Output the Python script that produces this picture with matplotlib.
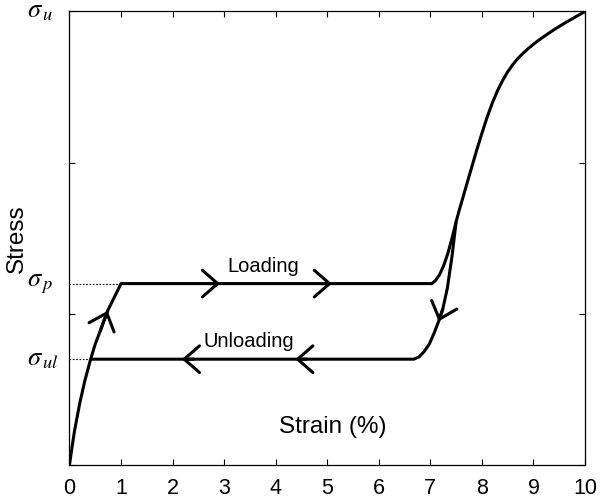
import matplotlib
matplotlib.use("Agg")
import matplotlib.pyplot as plt
from matplotlib.transforms import blended_transform_factory

plt.rcParams['font.family'] = ['Liberation Sans', 'DejaVu Sans']
plt.rcParams['mathtext.fontset'] = 'stix'

# Loading path (strain %, stress in arbitrary units; sigma_u = 3)
load_x = [0, 0.05, 0.10, 0.15, 0.20, 0.30, 0.41, 0.50, 0.60, 0.74, 0.87, 1.00,
          7.03, 7.10, 7.18, 7.26, 7.34, 7.42, 7.50, 7.56, 7.62, 7.70, 7.80,
          7.90, 8.00, 8.10, 8.20, 8.30, 8.40, 8.50, 8.60, 8.70, 8.80, 8.90,
          9.05, 9.20, 9.40, 9.60, 9.80, 10.0]
load_y = [0, 0.12, 0.23, 0.32, 0.41, 0.56, 0.70, 0.80, 0.89, 1.02, 1.11, 1.20,
          1.20, 1.22, 1.26, 1.32, 1.40, 1.50, 1.61, 1.685, 1.755, 1.85, 1.967,
          2.084, 2.194, 2.299, 2.393, 2.474, 2.543, 2.601, 2.649, 2.690, 2.724, 2.755,
          2.797, 2.834, 2.880, 2.922, 2.961, 3.0]

# Unloading path
unload_x = [7.50, 7.42, 7.33, 7.24, 7.16, 7.07, 6.98, 6.88, 6.78, 6.68, 6.55, 0.41]
unload_y = [1.61, 1.38, 1.17, 1.03, 0.95, 0.87, 0.80, 0.75, 0.715, 0.70, 0.70, 0.70]

sigma_u, sigma_p, sigma_ul = 3.0, 1.2, 0.7
sigma_p_x, sigma_ul_x = 1.0, 0.41

# arrow (tail, tip) pairs
arrows = [((0.60, 0.89), (0.74, 1.02)),
          ((2.70, 1.20), (2.92, 1.20)),
          ((4.87, 1.20), (5.09, 1.20)),
          ((7.24, 1.03), (7.16, 0.95)),
          ((4.60, 0.70), (4.38, 0.70)),
          ((2.40, 0.70), (2.18, 0.70))]

xticks = list(range(0, 11))
yticks = [0, 1, 2, 3]

fig = plt.figure(figsize=(6, 5), dpi=100)
ax = fig.add_axes([0.1158, 0.07, 0.975 - 0.1158, 0.977 - 0.07])

ax.plot(load_x, load_y, color='black', lw=2.2, solid_capstyle='butt',
        solid_joinstyle='round', zorder=3)
ax.plot(unload_x, unload_y, color='black', lw=2.2, solid_capstyle='butt',
        solid_joinstyle='round', zorder=3)

ax.plot([0, sigma_p_x], [sigma_p, sigma_p], color='black', lw=0.8, ls=(0, (1.5, 1.5)))
ax.plot([0, sigma_ul_x], [sigma_ul, sigma_ul], color='black', lw=0.8, ls=(0, (1.5, 1.5)))

for tail, tip in arrows:
    ax.annotate('', xy=tip, xytext=tail,
                arrowprops=dict(arrowstyle='->,head_length=0.55,head_width=0.48',
                                color='black', lw=2.2, mutation_scale=20,
                                shrinkA=0, shrinkB=0), zorder=4)

ax.text(3.76, 1.31, 'Loading', fontsize=14.5, ha='center', va='center')
ax.text(3.47, 0.82, 'Unloading', fontsize=14.5, ha='center', va='center')
ax.text(5.1, 0.25, 'Strain (%)', fontsize=17.5, ha='center', va='center')

trans = blended_transform_factory(fig.transFigure, ax.transData)
for val, lab in [(sigma_u, r'$\sigma_{\,u}$'), (sigma_p, r'$\sigma_{\,p}$'), (sigma_ul, r'$\sigma_{\,ul}$')]:
    ax.text(27 / 600, val, lab, fontsize=19, ha='left', va='center',
            transform=trans, clip_on=False)

ax.set_xlim(0, 10)
ax.set_ylim(0, 3)
ax.set_xticks(xticks)
ax.set_yticks(yticks)
ax.set_yticklabels([])
ax.tick_params(direction='in', length=4, width=0.8, top=True, right=True,
               labelsize=15.5, pad=9)
for s in ax.spines.values():
    s.set_linewidth(0.9)
ax.set_ylabel('Stress', fontsize=17.5, labelpad=0)
ax.yaxis.set_label_coords(-0.080, 0.5)

fig.savefig('out.png', dpi=100)
